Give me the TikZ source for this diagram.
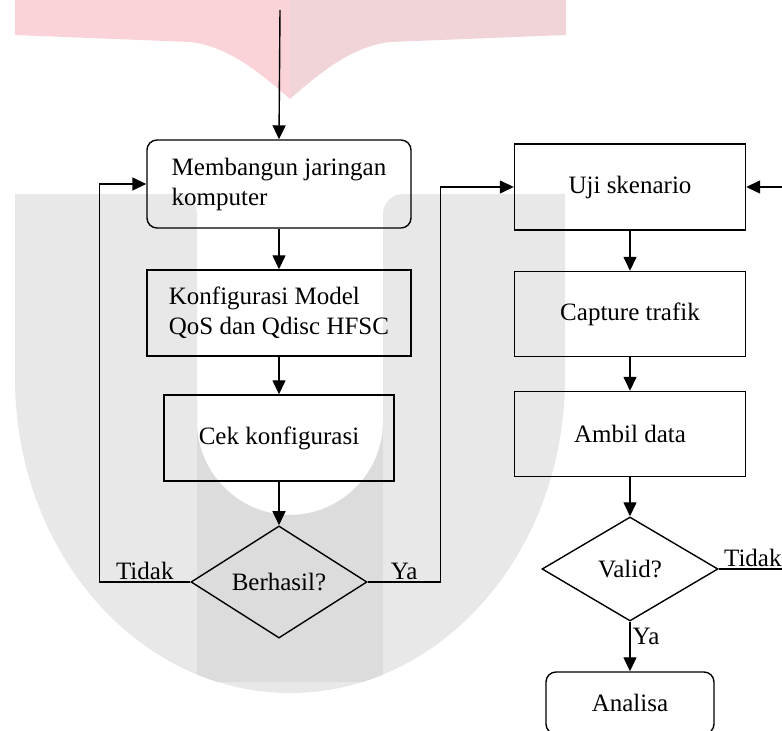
\documentclass[tikz,border=0pt]{standalone}
\usepackage{fontspec}
\setmainfont{Liberation Serif}
\usetikzlibrary{shapes.geometric,arrows.meta}

\definecolor{wmpinka}{RGB}{249,211,215}
\definecolor{wmpinkb}{RGB}{240,212,215}
\definecolor{wmgrey}{RGB}{232,232,232}
\definecolor{wmband}{RGB}{220,220,220}

\begin{document}
\begin{tikzpicture}[x=0.5pt, y=-0.5pt,
  font=\fontsize{12.5pt}{15pt}\selectfont,
  proc/.style={draw, line width=0.7pt, inner sep=0pt},
  dec/.style={draw, diamond, line width=0.7pt, inner sep=0pt},
  lbl/.style={inner sep=1pt},
  arr/.style={line width=0.7pt, -{Triangle[length=7pt, width=6.5pt]}}]

\useasboundingbox (0,0) rectangle (782,731);
\clip (0,0) rectangle (782,731);

% --- Watermark ---
\fill[wmpinka] (15,0) -- (15,35) -- (190,42)
  .. controls (225,46) and (255,68) .. (290,99) -- (290,0) -- cycle;
\fill[wmpinkb] (290,0) -- (290,99)
  .. controls (325,68) and (355,46) .. (390,42) -- (566,35) -- (566,0) -- cycle;
\def\upath{(15,194) -- (15,378)
  .. controls (15,552) and (138,693) .. (290,693)
  .. controls (442,693) and (565,552) .. (565,378) -- (565,194) -- (403,194)
  .. controls (392,194) and (383,203) .. (383,214) -- (383,422)
  .. controls (383,473) and (341,515) .. (290,515)
  .. controls (239,515) and (197,473) .. (197,422) -- (197,214)
  .. controls (197,203) and (188,194) .. (177,194) -- cycle}
\fill[wmgrey] \upath;
\begin{scope}
  \clip \upath;
  \fill[wmband] (197,400) rectangle (383,682);
\end{scope}

% --- Left column ---
\coordinate (st) at (280,10);
\node[proc, rounded corners=5pt, minimum width=132pt, minimum height=44pt,
  align=left] (mb) at (279,184)
  {Membangun jaringan\\komputer};
\node[proc, minimum width=132pt, minimum height=43pt,
  align=left] (kf) at (279,313)
  {Konfigurasi Model\\QoS dan Qdisc HFSC};
\node[proc, minimum width=115pt, minimum height=43pt] (ck) at (279,438)
  {Cek konfigurasi};
\node[dec, minimum width=88pt, minimum height=53pt] (bh) at (279,582)
  {Berhasil?};

% --- Right column ---
\node[proc, minimum width=115.5pt, minimum height=43pt] (uj) at (630,187)
  {Uji skenario};
\node[proc, minimum width=115.5pt, minimum height=42.5pt] (ct) at (630,314)
  {Capture trafik};
\node[proc, minimum width=115.5pt, minimum height=42.5pt] (am) at (630,434)
  {Ambil data};
\node[dec, minimum width=88pt, minimum height=52pt] (vd) at (630,569)
  {Valid?};
\node[proc, rounded corners=5pt, minimum width=84pt, minimum height=31pt]
  (an) at (630,703) {Analisa};

% --- Connectors ---
\draw[arr] (st) -- (mb.north);
\draw[arr] (mb) -- (kf);
\draw[arr] (kf) -- (ck);
\draw[arr] (ck) -- (bh);
\draw[arr] (bh.west) -- node[lbl, above] {Tidak} ++(-91,0) |- (mb.west);
\draw[arr] (bh.east) -- node[lbl, above] {Ya} ++(73,0) |- (uj.west);
\draw[arr] (uj) -- (ct);
\draw[arr] (ct) -- (am);
\draw[arr] (am) -- (vd);
\draw[arr] (vd) -- node[lbl, right, pos=0.3] {Ya} (an);
\draw[arr] (vd.east) -- node[lbl, above right, pos=0.03] {Tidak}
  ++(90,0) |- (uj.east);

\end{tikzpicture}
\end{document}
